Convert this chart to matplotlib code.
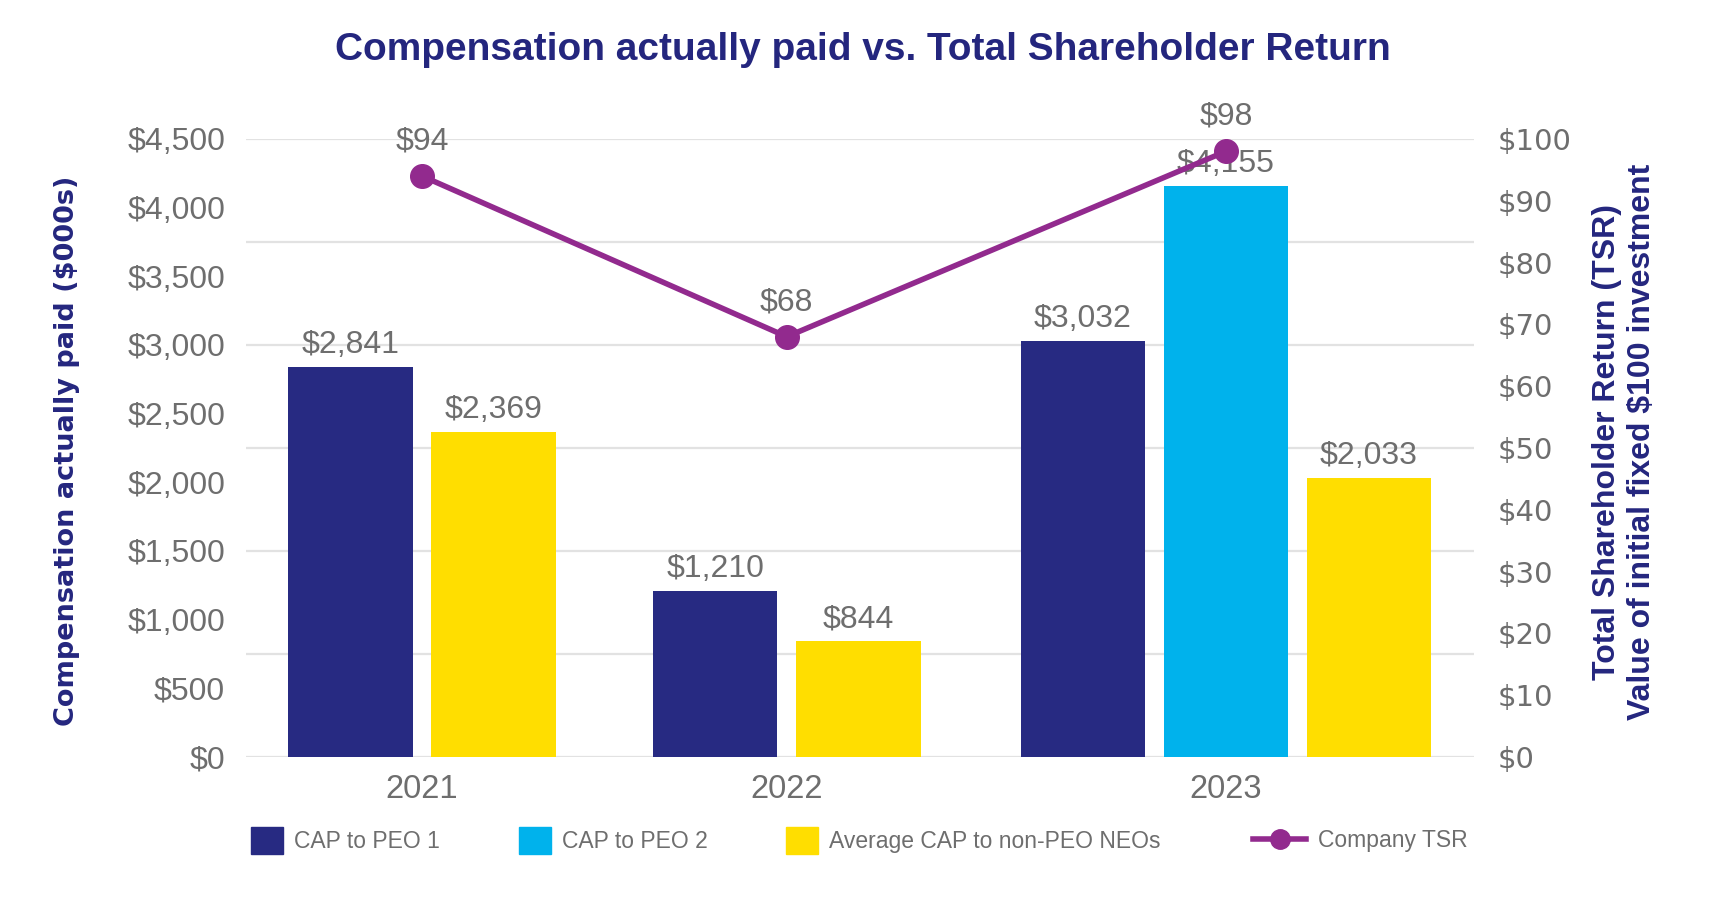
import numpy as np
import matplotlib
matplotlib.use("Agg")
import matplotlib.pyplot as plt
from matplotlib.patches import Patch
from matplotlib.lines import Line2D

# ---------------------------------
# DATA
# ---------------------------------

years = ["2021", "2022", "2023"]
cap_peo1 = [2841, 1210, 3032]
cap_peo2 = [None, None, 4155]
avg_neo = [2369, 844, 2033]
company_tsr = [94, 68, 98]

series_names = ["CAP to PEO 1", "CAP to PEO 2", "Average CAP to non-PEO NEOs"]
tsr_name = "Company TSR"

# ---------------------------------
# STYLE
# ---------------------------------

NAVY = "#272A82"
CYAN = "#00B2EC"
YELLOW = "#FFDE00"
PURPLE = "#922A8E"
GRAY = "#6E6E6E"
TITLE = "#24267E"
GRID = "#E2E2E2"

NARROW = ["Liberation Sans", "DejaVu Sans"]
WIDE = ["DejaVu Sans"]

series_colors = [NAVY, CYAN, YELLOW]
group_centers = [1.23, 3.78, 6.85]
bar_width = 0.87

fig = plt.figure(figsize=(17.25, 9.0), dpi=100)
ax = fig.add_axes([0.1426, 0.159, 0.712, 0.6866])
ax2 = ax.twinx()

# ---------------------------------
# BARS
# ---------------------------------

all_series = [cap_peo1, cap_peo2, avg_neo]
for i, year in enumerate(years):
    present = [k for k in range(3) if all_series[k][i] is not None]
    n = len(present)
    for j, k in enumerate(present):
        x = group_centers[i] + (j - (n - 1) / 2)
        val = all_series[k][i]
        ax.bar(x, val, width=bar_width, color=series_colors[k], zorder=2)
        ax.annotate(f"${val:,}", (x, val), xytext=(0, 5), textcoords="offset points",
                    ha="center", va="bottom", fontsize=23, color=GRAY, family=NARROW)

for v in np.arange(0, 4501, 750):
    ax.axhline(v, color=GRID, lw=1.6, zorder=0)

ax.set_xlim(0, 8.585)
ax.set_ylim(0, 4500)
ax.set_yticks(np.arange(0, 4501, 500))
ax.set_yticklabels([f"${v:,}" for v in np.arange(0, 4501, 500)], family=NARROW,
                   fontsize=23, color=GRAY)
ax.set_xticks(group_centers)
ax.set_xticklabels(years, family=NARROW, fontsize=23.5, color=GRAY)
ax.tick_params(axis="both", length=0)
ax.tick_params(axis="y", pad=15)
ax.tick_params(axis="x", pad=12)
for s in ax.spines.values():
    s.set_visible(False)

ax.set_ylabel("Compensation actually paid ($000s)", fontsize=19.5, fontweight="bold",
              color=TITLE, family=WIDE, ha="center", va="center")
ax.yaxis.set_label_coords(-0.146, 0.495)

# ---------------------------------
# TSR LINE
# ---------------------------------

ax2.plot(group_centers, company_tsr, color=PURPLE, lw=4, marker="o", markersize=17, zorder=3)
for x, v in zip(group_centers, company_tsr):
    ax2.annotate(f"${v}", (x, v), xytext=(0, 14), textcoords="offset points",
                 ha="center", va="bottom", fontsize=23, color=GRAY, family=NARROW)

ax2.set_ylim(0, 100)
ax2.set_yticks(np.arange(0, 101, 10))
ax2.set_yticklabels([f"${v}" for v in np.arange(0, 101, 10)], family=WIDE,
                    fontsize=21, color=GRAY)
ax2.tick_params(axis="y", length=0, pad=17)
for s in ax2.spines.values():
    s.set_visible(False)

ax2.set_ylabel("Total Shareholder Return (TSR)\nValue of initial fixed $100 investment",
               fontsize=23, fontweight="bold", color=TITLE, family=NARROW, linespacing=1.2,
               ha="center", va="center")
ax2.yaxis.set_label_coords(1.1225, 0.51)

# ---------------------------------
# TITLE + LEGEND
# ---------------------------------

fig.text(0.5, 0.944, "Compensation actually paid vs. Total Shareholder Return",
         ha="center", va="center", fontsize=28, fontweight="bold", color=TITLE, family=NARROW)

bar_handles = [Patch(color=c) for c in series_colors]
leg1 = fig.legend(bar_handles, series_names, ncol=3, loc="center left",
                  bbox_to_anchor=(0.1455, 0.066), frameon=False, borderpad=0,
                  borderaxespad=0, handlelength=1.39, handleheight=1.39,
                  handletextpad=0.48, columnspacing=3.45,
                  prop={"family": NARROW, "size": 16.5}, labelcolor=GRAY)

tsr_handle = Line2D([], [], color=PURPLE, lw=4, marker="o", markersize=14)
leg2 = fig.legend([tsr_handle], [tsr_name], loc="center left",
                  bbox_to_anchor=(0.7266, 0.066), frameon=False, borderpad=0,
                  borderaxespad=0, handlelength=2.3, handletextpad=0.5,
                  prop={"family": NARROW, "size": 16.5}, labelcolor=GRAY)

fig.savefig("out.png", dpi=100)
